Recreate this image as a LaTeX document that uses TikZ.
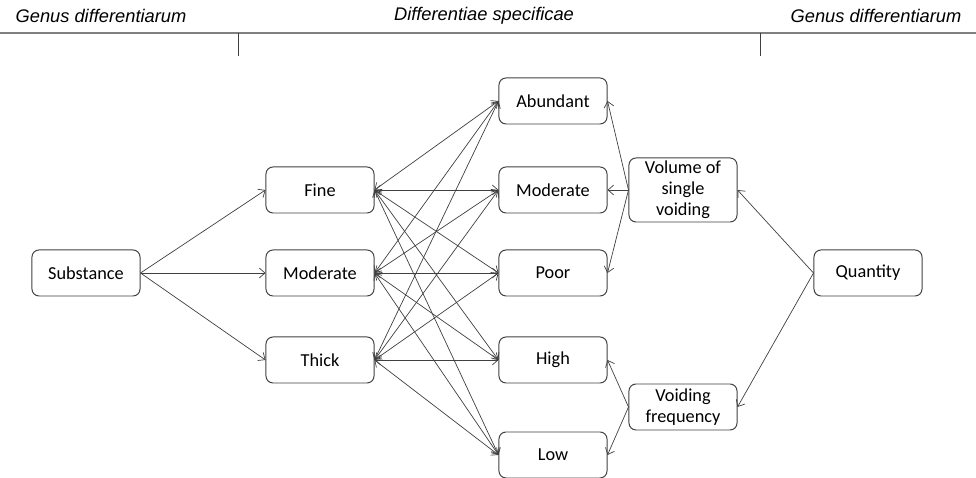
\documentclass[tikz,border=0pt]{standalone}
\usepackage{fontspec}
\setmainfont{Carlito}
\newfontfamily\headfont{Liberation Sans}
\usepackage{xcolor}
\usepackage{tikz}
\usetikzlibrary{arrows.meta, positioning}

\definecolor{linegray}{RGB}{64,64,64}

\begin{document}
\begin{tikzpicture}[x=0.025cm, y=-0.025cm,
    box/.style={draw=linegray, line width=0.7pt, rounded corners=5pt, minimum width=2.7cm, minimum height=1.15cm,
                align=center, font=\fontsize{13}{15}\selectfont, inner sep=1pt},
    head/.style={font=\headfont\itshape\fontsize{13}{15}\selectfont},
    link/.style={draw=linegray, line width=0.5pt, -{Straight Barb[length=4pt,width=7pt]}},
    both/.style={link, {Straight Barb[length=4pt,width=7pt]}-{Straight Barb[length=4pt,width=7pt]}}]

    \useasboundingbox (0,0) rectangle (976,478);

    % header
    \node[head] (genL) at (101,16) {Genus differentiarum};
    \node[head] (spec) at (484,16) {Differentiae specificae};
    \node[head] (genR) at (876,16) {Genus differentiarum};
    \draw[gray, line width=1.2pt] (0,33) -- (976,33);
    \draw[linegray, line width=0.5pt] (238,33) -- (238,56);
    \draw[linegray, line width=0.5pt] (760,33) -- (760,56);

    % left side
    \node[box] (sub) at (86,273) {Substance};
    \node[box] (fine) at (320,190) {Fine};
    \node[box] (modL) at (320,273) {Moderate};
    \node[box] (thick) at (320,360) {Thick};

    % middle column
    \node[box] (abund) at (553,101) {Abundant};
    \node[box] (modR) at (553,190) {Moderate};
    \node[box] (poor) at (553,273) {Poor};
    \node[box] (high) at (553,360) {High};
    \node[box] (low) at (553,455) {Low};

    % right side
    \node[box, minimum height=1.6cm] (vol) at (683,190) {Volume of\\single\\voiding};
    \node[box] (freq) at (683,407) {Voiding\\frequency};
    \node[box] (quant) at (868,273) {Quantity};

    \foreach \t in {fine,modL,thick}
        \draw[link] (sub.east) -- (\t.west);

    \foreach \a in {fine,modL,thick}
        \foreach \b in {abund,modR,poor,high,low}
            \draw[both] (\a.east) -- (\b.west);

    \foreach \t in {abund,modR,poor}
        \draw[link] (vol.west) -- (\t.east);
    \foreach \t in {high,low}
        \draw[link] (freq.west) -- (\t.east);

    \draw[link] (quant.west) -- (vol.east);
    \draw[link] (quant.west) -- (freq.east);

\end{tikzpicture}
\end{document}
